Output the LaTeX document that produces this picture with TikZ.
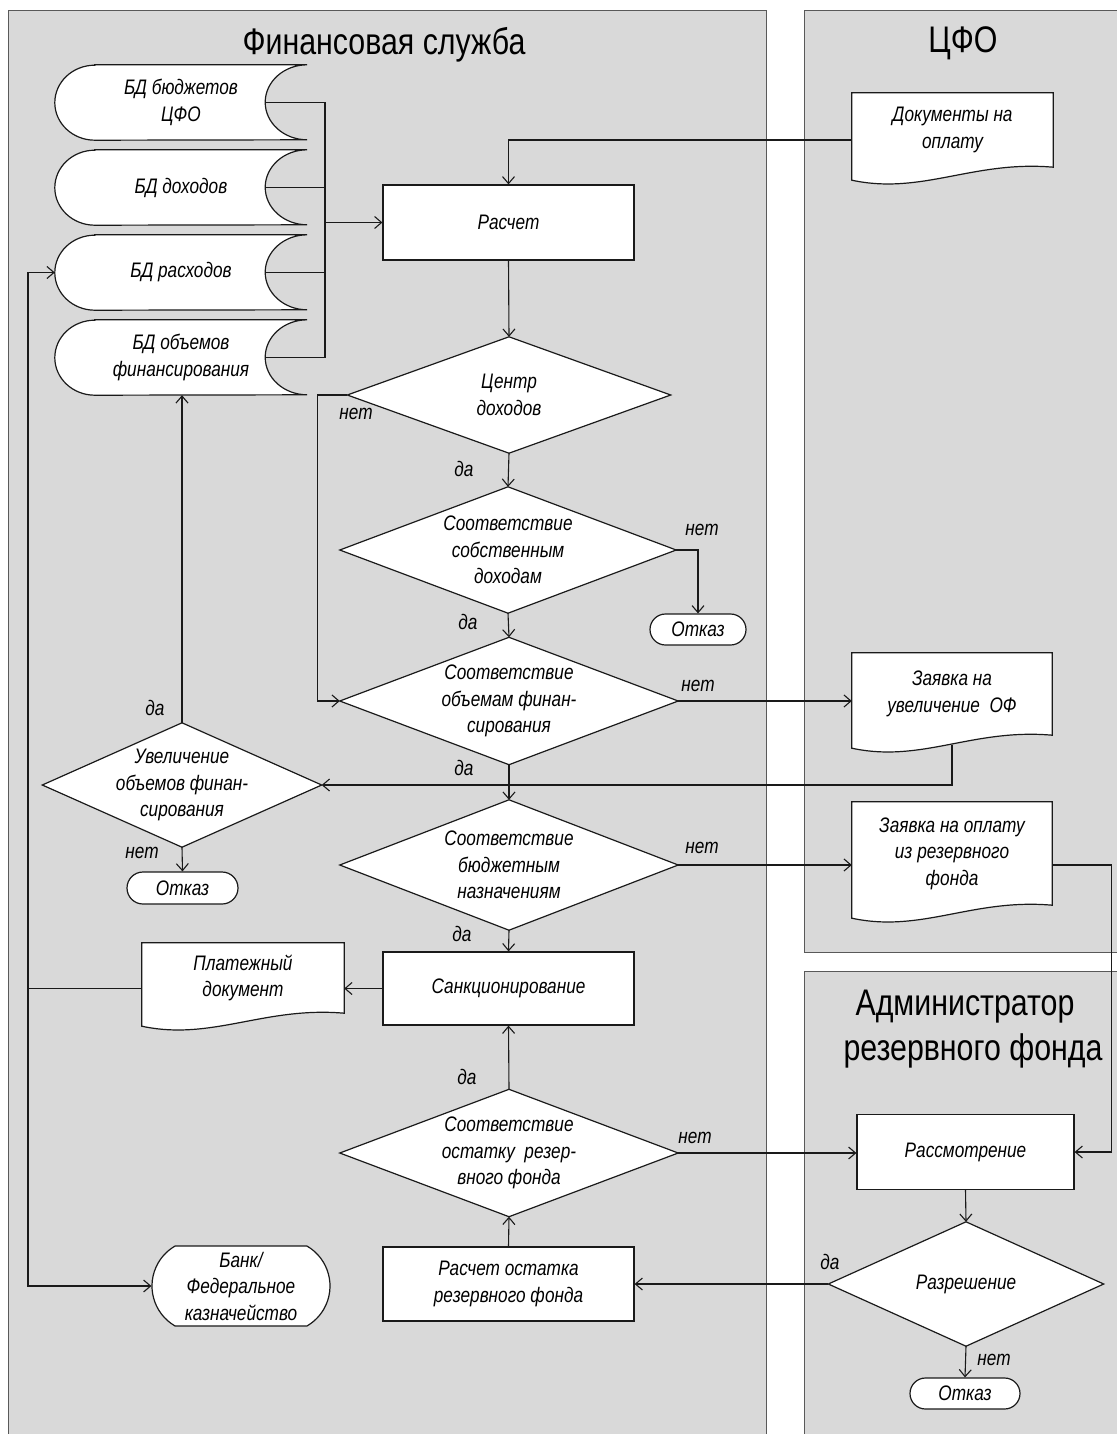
\documentclass[tikz,border=0pt]{standalone}
\usepackage{fontspec}
\setmainfont{Liberation Sans}[FakeStretch=0.82]
\usetikzlibrary{arrows.meta,shapes.misc,calc}
\pgfdeclarelayer{lanes}
\pgfdeclarelayer{shapes}
\pgfsetlayers{lanes,shapes,main}
\definecolor{lanefill}{HTML}{D9D9D9}
\definecolor{laneline}{HTML}{595959}
\definecolor{ink}{HTML}{1A1A1A}
\newcommand\nodefont{\fontsize{21}{26.5}\selectfont\itshape}
\newcommand\lanefont{\fontsize{37}{45}\selectfont}
\newcommand\mkdoc[1]{%
  \begin{pgfonlayer}{shapes}
  \path[shapeline] (#1.north west) -- (#1.north east) -- (#1.south east)
    .. controls ([xshift=-80pt,yshift=7pt]#1.south east) and ([xshift=70pt,yshift=-28pt]#1.south west) .. ([yshift=-13pt]#1.south west) -- cycle;
  \end{pgfonlayer}}
\newcommand\mkdia[1]{%
  \begin{pgfonlayer}{shapes}
  \path[shapeline] (#1.north) -- (#1.east) -- (#1.south) -- (#1.west) -- cycle;
  \end{pgfonlayer}}
\newcommand\mkdb[1]{%
  \begin{pgfonlayer}{shapes}
  \path[shapeline] ([xshift=40pt]#1.north west) -- (#1.north east)
    arc[start angle=90,end angle=270,x radius=42pt,y radius=37.5pt]
    -- ([xshift=40pt]#1.south west)
    arc[start angle=270,end angle=90,x radius=40pt,y radius=37.5pt] -- cycle;
  \end{pgfonlayer}}
\tikzset{
  shapeline/.style={draw=ink, line width=1.2pt, fill=white},
  proc/.style={draw=ink, line width=1.2pt, fill=white, font=\nodefont, align=center, inner sep=2pt},
  txt/.style={font=\nodefont, align=center, inner sep=2pt},
  term/.style={rounded rectangle, draw=ink, line width=1.2pt, fill=white, font=\nodefont, align=center, inner sep=2pt},
  lbl/.style={font=\nodefont, inner sep=0pt},
  conn/.style={draw=ink, line width=1.1pt},
  arr/.style={conn, -{Straight Barb[length=7pt,width=12pt,line width=1.1pt]}},
  lane/.style={fill=lanefill, draw=laneline, line width=0.9pt},
  lanetitle/.style={font=\lanefont, align=center, inner sep=0pt},
}
\begin{document}
\begin{tikzpicture}[x=1pt,y=-1pt]
\useasboundingbox (0,0) rectangle (1116,1434);
\begin{pgfonlayer}{lanes}
\path[lane] (8,10) rectangle (766,1450);
\path[lane] (804,10) rectangle (1130,952);
\path[lane] (804,971) rectangle (1130,1450);
\end{pgfonlayer}

% lane titles
\node[lanetitle, anchor=base] (t1) at (384,55) {Финансовая служба};
\node[lanetitle, anchor=base] (t2) at (963,53) {ЦФО};
\node[lanetitle, anchor=base] (t3) at (965,1015) {Администратор};
\node[lanetitle, anchor=base] (t3b) at (973,1060) {резервного фонда};

% data stores
\node[txt, minimum width=252pt, minimum height=75pt] (bd1) at (181,102.5) {БД бюджетов\\ЦФО};
\node[txt, minimum width=252pt, minimum height=75pt] (bd2) at (181,187.5) {БД доходов};
\node[txt, minimum width=252pt, minimum height=75pt] (bd3) at (181,272.5) {БД расходов};
\node[txt, minimum width=252pt, minimum height=75pt] (bd4) at (181,357.5) {БД объемов\\финансирования};
\mkdb{bd1}\mkdb{bd2}\mkdb{bd3}\mkdb{bd4}

% processes
\node[proc, minimum width=251pt, minimum height=75pt] (calc) at (508.5,222.5) {Расчет};
\node[proc, minimum width=251pt, minimum height=73pt] (sank) at (508.5,988.5) {Санкционирование};
\node[proc, minimum width=251pt, minimum height=74pt] (ras) at (508.5,1284) {Расчет остатка\\резервного фонда};
\node[proc, minimum width=217pt, minimum height=75pt] (rassm) at (965.5,1152) {Рассмотрение};

% documents
\node[txt, minimum width=201pt, minimum height=74pt] (docs) at (952.5,130) {Документы на\\оплату};
\node[txt, minimum width=200pt, minimum height=82pt] (zof) at (952,694) {Заявка на\\увеличение\ \ ОФ};
\node[txt, minimum width=200pt, minimum height=103pt] (zop) at (952,853.5) {Заявка на оплату\\из резервного\\фонда};
\node[txt, minimum width=202pt, minimum height=70pt] (plat) at (243,978) {Платежный\\документ};
\mkdoc{docs}\mkdoc{zof}\mkdoc{zop}\mkdoc{plat}

% decisions
\node[txt, minimum width=323pt, minimum height=116pt] (d1) at (509,395) {Центр\\доходов};
\node[txt, minimum width=336pt, minimum height=126pt] (d2) at (508,550) {Соответствие\\собственным\\доходам};
\node[txt, minimum width=338pt, minimum height=127pt] (d3) at (509,701) {Соответствие\\объемам финан-\\сирования};
\node[txt, minimum width=279pt, minimum height=124pt] (d4) at (182,785) {Увеличение\\объемов финан-\\сирования};
\node[txt, minimum width=338pt, minimum height=130pt] (d5) at (509,865) {Соответствие\\бюджетным\\назначениям};
\node[txt, minimum width=338pt, minimum height=127pt] (d6) at (509,1153) {Соответствие\\остатку\ \ резер-\\вного фонда};
\node[txt, minimum width=275pt, minimum height=124pt] (d7) at (966,1284) {Разрешение};
\mkdia{d1}\mkdia{d2}\mkdia{d3}\mkdia{d4}\mkdia{d5}\mkdia{d6}\mkdia{d7}

% terminators
\node[term, minimum width=100pt, minimum height=31pt] (otk1) at (698,629.5) {Отказ};
\node[term, minimum width=115pt, minimum height=32pt] (otk2) at (182.5,888) {Отказ};
\node[term, minimum width=114pt, minimum height=31pt] (otk3) at (965,1393.5) {Отказ};
\node[term, rounded rectangle arc length=120, minimum width=182pt, minimum height=80pt] (bank) at (241,1286) {Банк/\\Федеральное\\казначейство};

% connectors
\coordinate (bdbus) at (325,222.5);
\draw[conn] ([xshift=-42pt]bd1.east) -- (bd1.east -| bdbus) -- (bd4.east -| bdbus) -- ([xshift=-42pt]bd4.east);
\draw[conn] ([xshift=-42pt]bd2.east) -- (bd2.east -| bdbus);
\draw[conn] ([xshift=-42pt]bd3.east) -- (bd3.east -| bdbus);
\draw[arr] (bdbus) -- (calc.west);
\draw[arr] ([yshift=-10pt]docs.west) -| (calc.north);
\draw[arr] (calc.south) -- (d1.north);
\draw[arr] (d1.south) -- (d2.north);
\draw[arr] (d1.west) -- ++(-30,0) |- (d3.west);
\draw[arr] (d2.east) -| (otk1.north);
\draw[arr] (d2.south) -- (d3.north);
\draw[arr] (d3.east) -- (d3.east -| zof.west);
\draw[arr] ([yshift=-10pt]zof.south) |- (d4.east);
\draw[arr] (d4.north) -- (d4.north |- bd4.south);
\draw[arr] (d4.south) -- (otk2.north);
\draw[arr] (d3.south) -- (d5.north);
\draw[arr] (d5.east) -- (d5.east -| zop.west);
\draw[arr] (d5.east -| zop.east) -- ++(59,0) |- (rassm.east);
\draw[arr] (d5.south) -- (sank.north);
\draw[arr] (sank.west) -- (sank.west -| plat.east);
\coordinate (lbus) at (28,988.5);
\draw[conn] (sank.west -| plat.west) -- (lbus);
\draw[arr] (lbus) |- (bd3.west);
\draw[arr] (lbus) |- (bank.west);
\draw[arr] (d6.north) -- (sank.south);
\draw[arr] (d6.east) -- (d6.east -| rassm.west);
\draw[arr] (ras.north) -- (d6.south);
\draw[arr] (rassm.south) -- (d7.north);
\draw[arr] (d7.west) -- (d7.west -| ras.east);
\draw[arr] (d7.south) -- (otk3.north);

% labels
\node[lbl] (l1) at (356,414) {нет};
\node[lbl] (l2) at (464,469) {да};
\node[lbl] (l3) at (702,530) {нет};
\node[lbl] (l4) at (468,622) {да};
\node[lbl] (l5) at (698,686) {нет};
\node[lbl] (l6) at (464,768) {да};
\node[lbl] (l7) at (155,708) {да};
\node[lbl] (l8) at (142,853) {нет};
\node[lbl] (l9) at (702,848) {нет};
\node[lbl] (l10) at (462,934) {да};
\node[lbl] (l11) at (467,1077) {да};
\node[lbl] (l12) at (695,1138) {нет};
\node[lbl] (l13) at (830,1262) {да};
\node[lbl] (l14) at (994,1360) {нет};
\end{tikzpicture}
\end{document}
